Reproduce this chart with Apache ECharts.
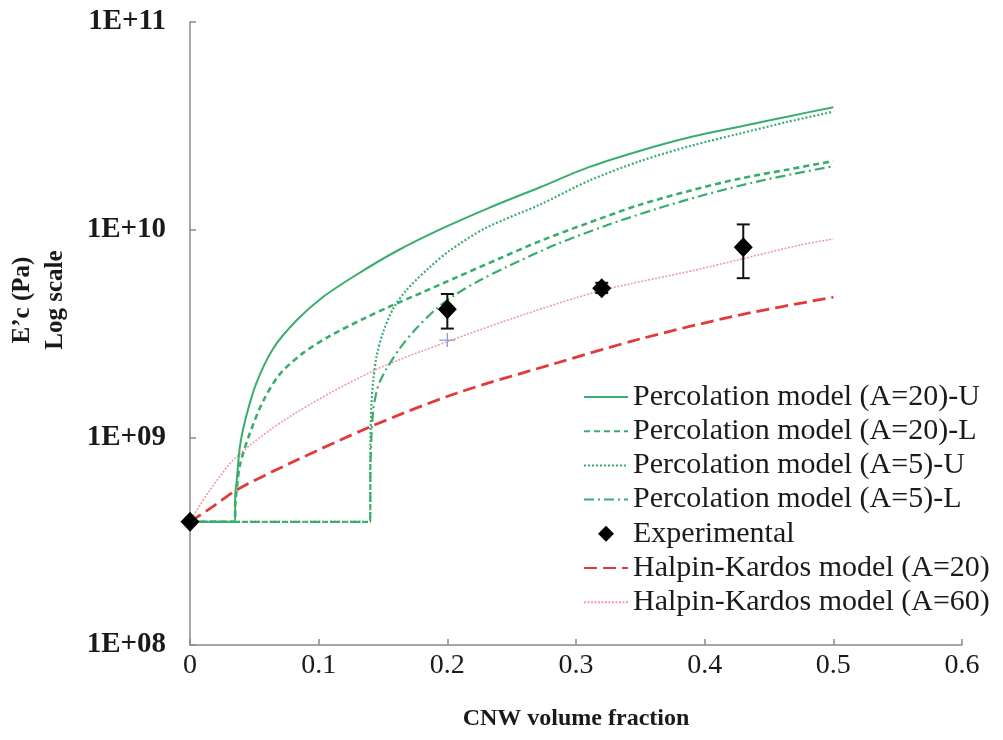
<!DOCTYPE html>
<html><head><meta charset="utf-8">
<script src="https://cdn.jsdelivr.net/npm/echarts@6/dist/echarts.min.js"></script>
<style>html,body{margin:0;padding:0;background:#fff}#c{width:1003px;height:740px}</style>
</head><body><div id="c"></div>
<script>
// ---- data ----
const xTicks = [0, 0.1, 0.2, 0.3, 0.4, 0.5, 0.6];
const yTicks = [1e8, 1e9, 1e10, 1e11];

const pU20X = [0, 0.035, 0.0352, 0.0363, 0.0389, 0.0441, 0.0518, 0.0647, 0.0829, 0.1036, 0.13, 0.16, 0.194, 0.232, 0.272, 0.31, 0.35, 0.39, 0.427, 0.465, 0.5];
const pU20Y = [3.92e8, 3.92e8, 5.3e8, 6.17e8, 9.12e8, 1.29e9, 1.84e9, 2.68e9, 3.66e9, 4.75e9, 6.1e9, 7.85e9, 1.0e10, 1.27e10, 1.6e10, 2.0e10, 2.40e10, 2.80e10, 3.13e10, 3.51e10, 3.89e10];

const pL20X = [0, 0.035, 0.0352, 0.0363, 0.0389, 0.0466, 0.057, 0.07, 0.088, 0.1088, 0.1347, 0.1554, 0.1813, 0.207, 0.24, 0.272, 0.31, 0.35, 0.39, 0.427, 0.465, 0.5];
const pL20Y = [3.92e8, 3.92e8, 4.8e8, 5.62e8, 7.41e8, 1.05e9, 1.5e9, 2.02e9, 2.55e9, 3.08e9, 3.72e9, 4.27e9, 5.01e9, 5.89e9, 7.24e9, 8.81e9, 1.08e10, 1.32e10, 1.55e10, 1.76e10, 1.95e10, 2.14e10];

const pU5X = [0, 0.14, 0.1402, 0.141, 0.1424, 0.145, 0.15, 0.158, 0.1684, 0.1865, 0.202, 0.23, 0.272, 0.31, 0.35, 0.39, 0.427, 0.465, 0.5];
const pU5Y = [3.92e8, 3.92e8, 9.7e8, 1.44e9, 1.87e9, 2.45e9, 3.2e9, 4.17e9, 5.13e9, 6.61e9, 7.94e9, 1.02e10, 1.32e10, 1.72e10, 2.14e10, 2.54e10, 2.90e10, 3.31e10, 3.70e10];

const pL5X = [0, 0.14, 0.1402, 0.141, 0.1424, 0.145, 0.1476, 0.1528, 0.1632, 0.176, 0.1917, 0.207, 0.225, 0.246, 0.285, 0.324, 0.3626, 0.4015, 0.44, 0.47, 0.5];
const pL5Y = [3.92e8, 3.92e8, 7.08e8, 1.0e9, 1.35e9, 1.66e9, 1.86e9, 2.14e9, 2.69e9, 3.35e9, 4.17e9, 4.90e9, 5.69e9, 6.61e9, 8.51e9, 1.05e10, 1.26e10, 1.48e10, 1.70e10, 1.86e10, 2.02e10];

const hk20X = [0, 0.018, 0.0363, 0.0777, 0.141, 0.207, 0.285, 0.35, 0.427, 0.5];
const hk20Y = [3.92e8, 4.65e8, 5.58e8, 7.5e8, 1.13e9, 1.63e9, 2.28e9, 2.98e9, 3.88e9, 4.73e9];

const hk60X = [0, 0.0155, 0.0363, 0.0777, 0.141, 0.1995, 0.259, 0.3186, 0.396, 0.474, 0.5];
const hk60Y = [3.92e8, 5.58e8, 8.07e8, 1.26e9, 2.07e9, 2.88e9, 3.89e9, 5.07e9, 6.46e9, 8.43e9, 9.02e9];

const expX = [0, 0.2, 0.32, 0.43];
const expY = [3.92e8, 4.14e9, 5.22e9, 8.22e9];
const errX = [0.2, 0.32, 0.43];
const errLow = [3.34e9, 4.95e9, 5.84e9];
const errHigh = [4.9e9, 5.55e9, 1.06e10];

const plusX = [0.2];
const plusY = [2.94e9];

const names = ['Percolation model (A=20)-U', 'Percolation model (A=20)-L', 'Percolation model (A=5)-U',
  'Percolation model (A=5)-L', 'Experimental', 'Halpin-Kardos model (A=20)', 'Halpin-Kardos model (A=60)'];

// ---- chart ----
const FONT = '"Liberation Serif", "Times New Roman", serif';
const GREEN = '#38ad6c';
const pairs = (xs, ys) => xs.map((x, i) => [x, ys[i]]);
const lineSeries = (name, xs, ys, color, width, type, z) => ({
  name, type: 'line', data: pairs(xs, ys), symbol: 'none', symbolSize: 0, showSymbol: false,
  smooth: 0.3, clip: false, z,
  lineStyle: { color, width, type }, itemStyle: { color }, emphasis: { disabled: true }
});
const legendData = names.map(n => n === 'Experimental'
  ? { name: n, icon: 'path://M5,0 L10,5 L5,10 L0,5 Z', itemStyle: { color: '#000', opacity: 1 } }
  : { name: n, itemStyle: { opacity: 0 } });

const chart = echarts.init(document.getElementById('c'), null, { renderer: 'canvas' });
chart.setOption({
  backgroundColor: '#ffffff',
  animation: false,
  grid: { left: 190, right: 41, top: 22, bottom: 95, containLabel: false, outerBoundsMode: 'none' },
  xAxis: {
    type: 'value', min: xTicks[0], max: xTicks[xTicks.length - 1], interval: 0.1,
    axisLine: { show: true, lineStyle: { color: '#8a8a8a', width: 1.5 } },
    axisTick: { show: true, inside: true, length: 6, lineStyle: { color: '#8a8a8a', width: 1.5 } },
    splitLine: { show: false },
    axisLabel: { margin: 7, color: '#1a1a1a', fontFamily: FONT, fontSize: 28,
      formatter: v => (v === 0 ? '0' : v.toFixed(1)) },
    name: 'CNW volume fraction', nameLocation: 'middle', nameGap: 62,
    nameTextStyle: { fontFamily: FONT, fontWeight: 'bold', fontSize: 24, color: '#1a1a1a' }
  },
  yAxis: {
    type: 'log', logBase: 10, min: yTicks[0], max: yTicks[yTicks.length - 1], splitNumber: 3,
    axisLine: { show: true, lineStyle: { color: '#8a8a8a', width: 1.5 } },
    axisTick: { show: true, inside: true, length: 6, lineStyle: { color: '#8a8a8a', width: 1.5 } },
    minorTick: { show: false },
    splitLine: { show: false },
    axisLabel: { margin: 24, color: '#1a1a1a', fontFamily: FONT, fontSize: 29, fontWeight: 'bold',
      formatter: v => { const e = Math.round(Math.log10(v)); return '1E+' + (e < 10 ? '0' + e : e); } }
  },
  legend: {
    data: legendData, orient: 'vertical', left: 578, top: 377,
    itemWidth: 44, itemHeight: 16, itemGap: 4.2, symbolKeepAspect: true,
    textStyle: { fontFamily: FONT, fontSize: 30, lineHeight: 30, color: '#1a1a1a' },
    selectedMode: false
  },
  graphic: [
    { type: 'text', x: 23, y: 300, rotation: Math.PI / 2,
      style: { text: 'E\u2019c (Pa)', font: 'bold 25px ' + FONT, fill: '#1a1a1a', textAlign: 'center', textVerticalAlign: 'middle' } },
    { type: 'text', x: 56, y: 300, rotation: Math.PI / 2,
      style: { text: 'Log scale', font: 'bold 25px ' + FONT, fill: '#1a1a1a', textAlign: 'center', textVerticalAlign: 'middle' } }
  ],
  series: [
    lineSeries(names[6], hk60X, hk60Y, '#f29aa2', 1.6, [2, 1.5], 2),
    lineSeries(names[5], hk20X, hk20Y, '#e03a3c', 2.8, [13, 6], 2),
    lineSeries(names[3], pL5X, pL5Y, GREEN, 2.2, [10, 4, 2, 4], 3),
    lineSeries(names[2], pU5X, pU5Y, GREEN, 2.2, [2, 2], 3),
    lineSeries(names[1], pL20X, pL20Y, GREEN, 2.6, [6, 4], 3),
    lineSeries(names[0], pU20X, pU20Y, GREEN, 2, 'solid', 3),
    {
      name: 'errorbars', type: 'custom', silent: true, z: 5, clip: false,
      data: errX.map((x, i) => [x, errLow[i], errHigh[i]]),
      encode: { x: 0, y: [1, 2] },
      renderItem: (params, api) => {
        const x = api.value(0), lo = api.value(1), hi = api.value(2);
        const a = api.coord([x, hi]), b = api.coord([x, lo]);
        const w = 6.5, st = { stroke: '#111', lineWidth: 2 };
        return { type: 'group', children: [
          { type: 'line', shape: { x1: a[0], y1: a[1], x2: b[0], y2: b[1] }, style: st },
          { type: 'line', shape: { x1: a[0] - w, y1: a[1], x2: a[0] + w, y2: a[1] }, style: st },
          { type: 'line', shape: { x1: b[0] - w, y1: b[1], x2: b[0] + w, y2: b[1] }, style: st }
        ] };
      }
    },
    {
      name: 'marker', type: 'scatter', data: pairs(plusX, plusY), z: 4, clip: false,
      symbol: 'path://M4.6,0 H5.4 V4.6 H10 V5.4 H5.4 V10 H4.6 V5.4 H0 V4.6 H4.6 Z',
      symbolSize: [16, 14], itemStyle: { color: '#8e98d2', opacity: 1 }, emphasis: { disabled: true }
    },
    {
      name: names[4], type: 'scatter', data: pairs(expX, expY), z: 6, clip: false,
      symbol: 'diamond', symbolSize: [19, 20], itemStyle: { color: '#000', opacity: 1 }, emphasis: { disabled: true }
    }
  ]
});
</script>
</body></html>
